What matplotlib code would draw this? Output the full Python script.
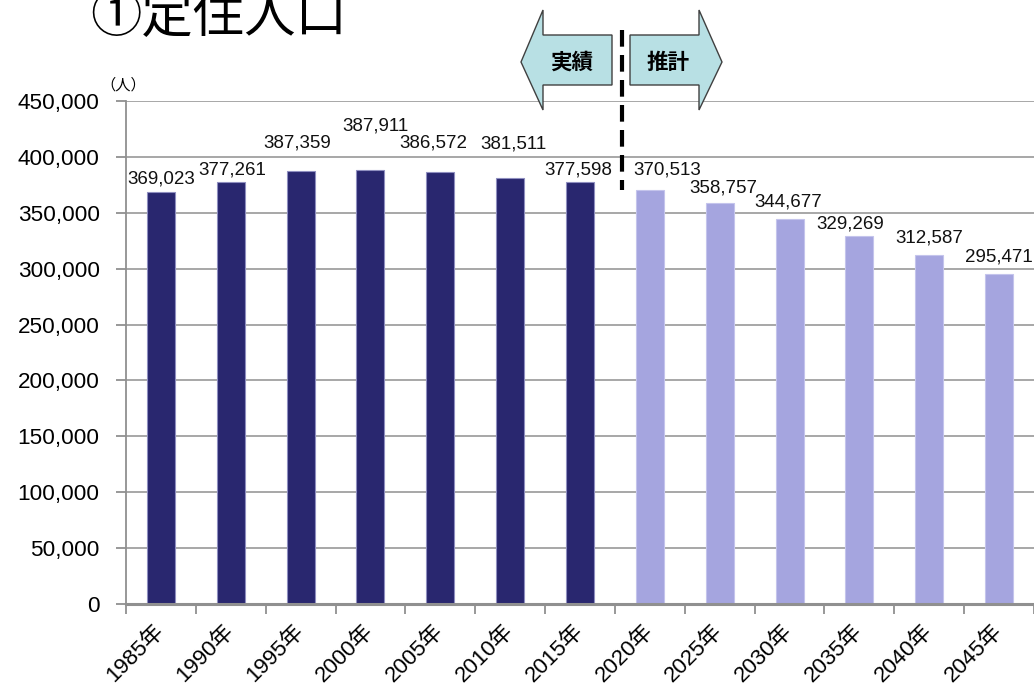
import matplotlib
matplotlib.use('Agg')
import matplotlib.pyplot as plt
from matplotlib.patches import Polygon
from matplotlib.ticker import FuncFormatter, FixedLocator

plt.rcParams['font.family'] = ['Liberation Sans', 'Noto Sans CJK JP', 'DejaVu Sans']

years = ['1985年', '1990年', '1995年', '2000年', '2005年', '2010年', '2015年',
         '2020年', '2025年', '2030年', '2035年', '2040年', '2045年']
population = [369023, 377261, 387359, 387911, 386572, 381511, 377598,
              370513, 358757, 344677, 329269, 312587, 295471]
n_actual = 7  # 1985-2015 are census results, the rest are projections

# hand-placed label nudges in pixels (dx, dy above the bar top)
label_nudge = [(0, 13), (2, 12), (-3, 28), (5, 44), (-7, 29), (3, 34), (-2, 12),
               (17, 20), (4, 15), (-1, 17), (-9, 12), (0, 17), (0, 17)]

W, H = 1034, 684
fig = plt.figure(figsize=(W / 100, H / 100), dpi=100)
ax = fig.add_axes([126 / W, 1 - 604 / H, 908 / W, 503 / H])

x = list(range(len(years)))
colors = ['#29276f' if i < n_actual else '#a5a5df' for i in x]
edges = ['#8f8fc0' if i < n_actual else '#c4c4ec' for i in x]
ax.bar(x, population, width=0.4, color=colors, edgecolor=edges, linewidth=0.8, zorder=3)

for i, v in enumerate(population):
    dx, dy = label_nudge[i]
    ax.annotate(f'{v:,}', (i, v), xytext=(dx, dy), textcoords='offset pixels',
                ha='center', va='center', fontsize=13.5, color='#111111', zorder=5)

ax.set_xlim(-0.5, len(years) - 0.5)
ax.set_ylim(0, 450000)
ax.yaxis.set_major_locator(FixedLocator(range(0, 450001, 50000)))
ax.yaxis.set_major_formatter(FuncFormatter(lambda v, p: f'{int(v):,}'))
ax.grid(axis='y', color='#a0a0a0', linewidth=1.3, zorder=0)

ax.set_xticks(x)
ax.set_xticklabels(years, rotation=45, ha='right', va='center',
                   rotation_mode='anchor', fontsize=16)
ax.set_xticks([i - 0.5 for i in range(len(years) + 1)], minor=True)
ax.tick_params(axis='x', which='major', length=0, pad=17)
ax.tick_params(axis='x', which='minor', length=7, width=1.3, color='#909090')
ax.tick_params(axis='y', length=7, width=1.3, color='#909090', labelsize=16.2, pad=12)

for side in ['top', 'right']:
    ax.spines[side].set_visible(False)
ax.spines['left'].set_color('#909090')
ax.spines['left'].set_linewidth(1.3)
ax.spines['bottom'].set_color('#909090')
ax.spines['bottom'].set_linewidth(2.2)
ax.spines['bottom'].set_zorder(4)

fig.text(100 / W, 1 - 85 / H, '（人）', fontsize=11, family='Noto Sans CJK JP',
         ha='left', va='center')

fig.text(90 / W, 1 - 32 / H, '①定住人口', fontsize=37, family='Noto Sans CJK JP',
         ha='left', va='baseline')


def px(pts):
    return [(a / W, 1 - b / H) for a, b in pts]


left_arrow = [(521, 62), (543, 10), (543, 35), (612, 35), (612, 85), (543, 85), (543, 110)]
right_arrow = [(722, 62), (699, 10), (699, 35), (630, 35), (630, 85), (699, 85), (699, 110)]
for shape in (left_arrow, right_arrow):
    fig.patches.append(Polygon(px(shape), closed=True, transform=fig.transFigure,
                               facecolor='#b8e0e4', edgecolor='#404040', linewidth=1.0))
fig.text(572 / W, 1 - 62 / H, '実績', fontsize=15.5, fontweight='bold',
         family='Noto Sans CJK JP', ha='center', va='center')
fig.text(668 / W, 1 - 62 / H, '推計', fontsize=15.5, fontweight='bold',
         family='Noto Sans CJK JP', ha='center', va='center')

fig.add_artist(plt.Line2D([622 / W, 622 / W], [1 - 30 / H, 1 - 190 / H],
                          transform=fig.transFigure, color='black', linewidth=3,
                          dashes=(4, 2)))

fig.savefig('out.png', dpi=100)
